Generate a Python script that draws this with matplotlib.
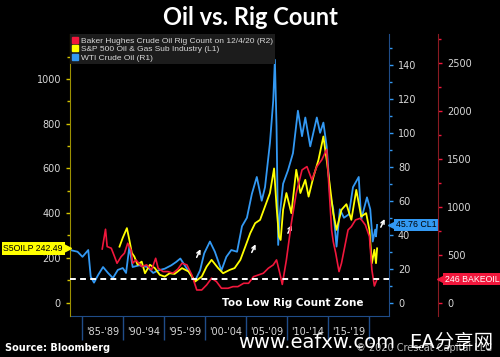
import matplotlib.pyplot as plt
from matplotlib.transforms import ScaledTranslation

# WTI crude oil (R1)
wti_years = [1983.6, 1984.5, 1985.1, 1985.8, 1986.1, 1986.5, 1987.0, 1987.6, 1988.2, 1988.8,
             1989.4, 1990.0, 1990.4, 1990.8, 1991.2, 1992.0, 1993.0, 1993.7, 1994.3, 1995.1,
             1995.9, 1996.5, 1997.0, 1997.8, 1998.4, 1998.8, 1999.4, 1999.9, 2000.6, 2001.2,
             2002.0, 2002.6, 2003.2, 2003.9, 2004.5, 2005.1, 2005.7, 2006.3, 2006.9, 2007.3,
             2007.9, 2008.3, 2008.5, 2008.7, 2008.9, 2009.1, 2009.5, 2010.1, 2010.7, 2011.3,
             2011.8, 2012.2, 2012.8, 2013.6, 2014.0, 2014.4, 2014.8, 2015.2, 2015.6, 2016.0,
             2016.4, 2016.9, 2017.5, 2018.0, 2018.7, 2019.0, 2019.7, 2020.1, 2020.4, 2020.7,
             2020.8, 2020.93]
wti = [31, 30, 27, 31, 15.3, 11.8, 16.3, 21, 17.5, 14.5,
       19.3, 20.4, 17.5, 33, 21, 22, 21, 17.5, 19, 20,
       22, 24, 26, 20, 15.3, 13, 19, 29, 36, 30,
       19, 27, 31, 30, 45, 50, 64, 74, 60, 68,
       94, 119, 143, 104, 34, 52, 70, 78, 88, 113,
       98, 109, 92, 109, 100, 106, 92, 64, 55, 33,
       55, 50, 52, 68, 74, 49, 62, 55, 36, 43,
       39, 45.76]

# S&P 500 Oil & Gas sub industry (L1)
spx_years = [1989.6, 1990.0, 1990.5, 1990.8, 1991.1, 1991.4, 1991.8, 1992.3, 1992.7, 1993.3,
             1993.9, 1994.5, 1995.1, 1995.7, 1996.3, 1997.2, 1998.0, 1998.8, 1999.6, 2000.2,
             2000.8, 2001.6, 2002.2, 2003.0, 2003.6, 2004.3, 2004.9, 2005.5, 2006.1, 2006.7,
             2007.3, 2007.9, 2008.4, 2008.7, 2009.0, 2009.2, 2009.5, 2009.9, 2010.5, 2011.1,
             2011.6, 2012.2, 2012.6, 2013.2, 2013.8, 2014.4, 2014.8, 2015.2, 2015.6, 2016.0,
             2016.6, 2017.2, 2017.8, 2018.4, 2019.0, 2019.6, 2020.0, 2020.3, 2020.6, 2020.8,
             2020.93]
spx = [250, 290, 333, 280, 222, 206, 169, 183, 131, 169,
       154, 124, 116, 131, 128, 154, 139, 94, 116, 161,
       191, 154, 131, 146, 154, 191, 250, 310, 355, 370,
       430, 490, 600, 430, 295, 280, 415, 490, 400, 594,
       490, 549, 474, 564, 638, 743, 638, 519, 400, 325,
       415, 440, 370, 504, 385, 400, 325, 176, 236, 176,
       242.49]

# Baker Hughes crude oil rig count (R2)
rig_years = [1987.5, 1987.9, 1988.1, 1988.6, 1989.0, 1989.3, 1989.8, 1990.2, 1990.6, 1991.0,
             1991.2, 1991.6, 1992.3, 1992.9, 1993.5, 1994.0, 1994.3, 1994.9, 1995.5, 1996.1,
             1996.7, 1997.2, 1997.8, 1998.4, 1999.0, 1999.6, 2000.2, 2000.8, 2001.4, 2002.0,
             2002.8, 2003.4, 2004.0, 2004.7, 2005.3, 2005.9, 2006.5, 2007.1, 2007.7, 2008.3,
             2008.7, 2009.1, 2009.4, 2009.9, 2010.5, 2011.1, 2011.8, 2012.4, 2013.0, 2013.6,
             2014.2, 2014.8, 2015.1, 2015.4, 2015.6, 2015.9, 2016.3, 2016.6, 2017.0, 2017.4,
             2017.8, 2018.3, 2018.9, 2019.5, 2020.0, 2020.3, 2020.6, 2020.93]
rigs = [560, 766, 585, 568, 480, 411, 480, 516, 620, 550,
        411, 446, 376, 394, 341, 463, 359, 324, 324, 307,
        350, 411, 394, 289, 132, 132, 185, 255, 219, 150,
        150, 167, 167, 202, 202, 271, 289, 307, 359, 394,
        446, 307, 190, 446, 829, 1142, 1385, 1420, 1281, 1420,
        1490, 1600, 1176, 759, 637, 516, 324, 411, 585, 759,
        793, 863, 881, 811, 689, 341, 174, 246]

period_ticks = [1985, 1990, 1995, 2000, 2005, 2010, 2015, 2020]
period_labels = ["'85-'89", "'90-'94", "'95-'99", "'00-'04", "'05-'09", "'10-'14", "'15-'19"]
arrow_heads = [(1999.6, 250), (2006.3, 272), (2010.7, 358), (2022.0, 385)]

RED = '#f0173c'
YEL = '#ffff00'
BLU = '#3399f3'
TXT = '#d8d8d8'
ARIAL = ['Liberation Sans', 'DejaVu Sans']

fig = plt.figure(figsize=(5, 3.57), dpi=100, facecolor='black')
ax2 = fig.add_axes([0.14, 0.115, 0.638, 0.79])   # WTI (bottom layer)
ax = ax2.twinx()                                   # S&P (left axis)
ax3 = ax2.twinx()                                  # rigs
ax.yaxis.set_label_position('left')
ax.yaxis.tick_left()
ax2.yaxis.tick_right()
for a, z in ((ax2, 1), (ax, 2), (ax3, 3)):
    a.set_zorder(z)
    a.patch.set_visible(False)
    for s in a.spines.values():
        s.set_visible(False)

ax2.plot(wti_years, wti, color=BLU, lw=1.3)
ax.plot(spx_years, spx, color=YEL, lw=1.3)
ax3.plot(rig_years, rigs, color=RED, lw=1.2)

xl = (1983.58, 2022.38)
for a in (ax, ax2, ax3):
    a.set_xlim(*xl)
ax.set_ylim(-60, 1202)
ax2.set_ylim(-7.8, 158.2)
ax3.set_ylim(-139, 2805)

# left axis
ax.spines['left'].set_visible(True)
ax.spines['left'].set_color('#9c9000')
ax.set_yticks(range(0, 1001, 200))
ax.set_yticks(range(100, 1200, 200), minor=True)
ax.tick_params(axis='y', which='both', colors='#d4c400', labelcolor=TXT, labelsize=7, length=3, width=1)
ax.tick_params(axis='y', which='minor', length=2)

# blue axis
ax2.spines['right'].set_visible(True)
ax2.spines['right'].set_color('#1f4c88')
ax2.spines['bottom'].set_visible(True)
ax2.spines['bottom'].set_color('#1f4c88')
ax2.set_yticks(range(0, 141, 20))
ax2.set_yticks(range(10, 151, 20), minor=True)
ax2.tick_params(axis='y', which='both', colors=BLU, labelcolor=TXT, labelsize=7, length=3, width=1)
ax2.tick_params(axis='y', which='minor', length=2)

# red axis
ax3.spines['right'].set_visible(True)
ax3.spines['right'].set_position(('axes', 1.1536))
ax3.spines['right'].set_color('#8a1a22')
ax3.set_yticks(range(0, 2501, 500))
ax3.set_yticks(range(250, 2800, 500), minor=True)
ax3.tick_params(axis='y', which='both', colors=RED, labelcolor=TXT, labelsize=7, length=3, width=1)
ax3.tick_params(axis='y', which='minor', length=2)

# x axis: long period separators + centred labels
for a in (ax, ax3):
    a.tick_params(axis='x', which='both', bottom=False, labelbottom=False)
ax2.set_xticks(period_ticks)
ax2.set_xticklabels([])
ax2.set_xticks([y + 2.5 for y in period_ticks[:-1]], minor=True)
ax2.set_xticklabels(period_labels, minor=True)
ax2.tick_params(axis='x', which='major', length=17, width=1, color='#1f4c88')
ax2.tick_params(axis='x', which='minor', length=0, pad=8, labelsize=7, labelcolor=TXT)

# low rig count line
ax3.axhline(246, color='white', ls=(0, (3, 2.2)), lw=1.4, zorder=5)
ax.text(2010.7, -4, 'Too Low Rig Count Zone', color='white', fontsize=7.5,
        fontweight='bold', ha='center', va='center')

for hx, hy in arrow_heads:
    ax.annotate('', xy=(hx, hy), xytext=(-4.5, -9.5), textcoords='offset points',
                annotation_clip=False,
                arrowprops=dict(arrowstyle='->', color='white', lw=1.1, mutation_scale=6))

# value tags
def tag(a, xpos, val, text, fc, tc, side):
    tr = a.get_yaxis_transform()
    sgn = -1 if side == 'left' else 1
    mk = '<' if sgn > 0 else '>'
    a.plot([xpos], [val], marker=mk, ms=7.5, color=fc, clip_on=False, zorder=10,
           transform=tr + ScaledTranslation(sgn * 2.6 / 72, 0, fig.dpi_scale_trans))
    a.annotate(text, xy=(xpos, val), xycoords=tr, xytext=(sgn * 5.2, 0),
               textcoords='offset points', ha='right' if sgn < 0 else 'left', va='center',
               fontsize=6.3, color=tc, annotation_clip=False, zorder=11, family=ARIAL,
               bbox=dict(boxstyle='square,pad=0.2', fc=fc, ec='none'))

tag(ax, 0, 242.49, 'S5OILP 242.49', YEL, 'black', 'left')
tag(ax2, 1, 45.76, '45.76 CL1', BLU, 'black', 'right')
tag(ax3, 1.1536, 246, '246 BAKEOIL', RED, 'white', 'right')

# legend
lg_items = [('Baker Hughes Crude Oil Rig Count on 12/4/20 (R2)', RED),
            ('S&P 500 Oil & Gas Sub Industry (L1)', YEL),
            ('WTI Crude Oil (R1)', BLU)]
handles = [plt.Line2D([], [], marker='s', ls='none', color=c, ms=4) for _, c in lg_items]
leg = ax3.legend(handles, [t for t, _ in lg_items], loc='upper left', bbox_to_anchor=(0.0, 1.0),
                 prop={'family': ARIAL, 'size': 6}, frameon=True, facecolor='#1c1c1c',
                 edgecolor='none', framealpha=1, fancybox=False, handlelength=0.6,
                 handletextpad=0.35, borderpad=0.3, labelspacing=0.1, borderaxespad=0.05)
for t in leg.get_texts():
    t.set_color(TXT)

fig.text(0.5, 0.952, 'Oil vs. Rig Count', ha='center', va='center', fontsize=17,
         fontweight='bold', color='white', family='Lato')
fig.text(0.01, 0.025, 'Source: Bloomberg', ha='left', va='center', fontsize=7,
         fontweight='bold', color='white')
fig.text(0.985, 0.025, '\u00a9 2020 Crescat Capital LLC', ha='right', va='center',
         fontsize=7, color='#bbbbbb')
fig.text(0.476, 0.04, 'www.eafxw.com', ha='left', va='center', fontsize=14,
         color='white', family=['DejaVu Sans', 'Noto Sans CJK SC'])
fig.text(0.986, 0.04, 'EA分享网', ha='right', va='center', fontsize=14,
         color='white', family=['DejaVu Sans', 'Noto Sans CJK SC'])

fig.savefig('out.png', dpi=100, facecolor='black')
